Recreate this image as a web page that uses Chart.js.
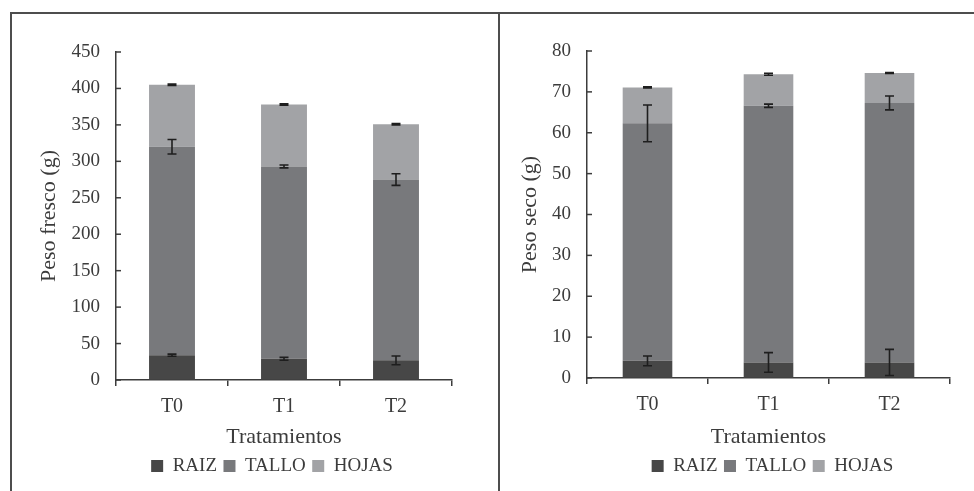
<!DOCTYPE html>
<html><head><meta charset="utf-8">
<script src="https://cdn.jsdelivr.net/npm/chart.js@4.4.0/dist/chart.umd.min.js"></script>
<style>
html,body{margin:0;padding:0;background:#fff;}
#wrap{position:relative;width:974px;height:491px;overflow:hidden;background:#fff;}
.c{position:absolute;top:0;}
.ln{position:absolute;background:#4d4d4d;}
</style></head>
<body><div id="wrap">
<div class="c" style="left:0;width:498px;height:491px"><canvas id="c1" width="498" height="491"></canvas></div>
<div class="c" style="left:498px;width:476px;height:491px"><canvas id="c2" width="476" height="491"></canvas></div>
<div class="ln" style="left:10px;top:12px;width:964px;height:2px"></div>
<div class="ln" style="left:10px;top:12px;width:2px;height:479px"></div>
<div class="ln" style="left:498px;top:12px;width:2px;height:479px"></div>
</div>
<script>
const categories = ['T0', 'T1', 'T2'];
const seriesNames = ['RAIZ', 'TALLO', 'HOJAS'];

const frescoRaiz  = [34, 29, 27];
const frescoTallo = [286, 264, 248];
const frescoHojas = [85, 85, 76];
const frescoRaizErr  = [1.5, 2, 6];
const frescoTalloErr = [10, 2, 8];
const frescoHojasErr = [1, 1, 1];

const secoRaiz  = [4.2, 3.8, 3.8];
const secoTallo = [58.1, 62.8, 63.5];
const secoHojas = [8.8, 7.7, 7.3];
const secoRaizErr  = [1.2, 2.4, 3.2];
const secoTalloErr = [4.5, 0.4, 1.7];
const secoHojasErr = [0.15, 0.25, 0.1];

const frescoTicks = {min: 0, max: 450, step: 50};
const secoTicks = {min: 0, max: 80, step: 10};

const colors = ['#474747', '#78797c', '#a2a3a6'];
const ink = '#3c3c3c';

Chart.defaults.font.family = '"Liberation Serif", "Times New Roman", serif';
Chart.defaults.font.size = 19;
Chart.defaults.color = ink;

const errorBars = {
  id: 'errorBars',
  afterDatasetsDraw(chart) {
    const ctx = chart.ctx, y = chart.scales.y;
    ctx.save();
    ctx.strokeStyle = '#1e1e1e';
    ctx.lineWidth = 1.6;
    chart.data.datasets.forEach((ds, i) => {
      const meta = chart.getDatasetMeta(i);
      meta.data.forEach((bar, j) => {
        let cum = 0;
        for (let k = 0; k <= i; k++) cum += chart.data.datasets[k].data[j];
        const e = ds.errors[j];
        const yt = y.getPixelForValue(cum + e), yb = y.getPixelForValue(cum - e);
        const x = bar.x, hw = 4.5;
        ctx.beginPath();
        ctx.moveTo(x, yt); ctx.lineTo(x, yb);
        ctx.moveTo(x - hw, yt); ctx.lineTo(x + hw, yt);
        ctx.moveTo(x - hw, yb); ctx.lineTo(x + hw, yb);
        ctx.stroke();
      });
    });
    ctx.restore();
  }
};

const innerTicks = {
  id: 'innerTicks',
  afterDraw(chart) {
    const ctx = chart.ctx, y = chart.scales.y, left = chart.chartArea.left;
    ctx.save();
    ctx.strokeStyle = ink;
    ctx.lineWidth = 1.5;
    y.ticks.forEach(t => {
      const py = y.getPixelForValue(t.value);
      ctx.beginPath();
      ctx.moveTo(left, py); ctx.lineTo(left + 5, py);
      ctx.stroke();
    });
    ctx.restore();
  }
};

const legendShift = {
  id: 'legendShift',
  afterLayout(chart, args, opts) {
    const lg = chart.legend;
    if (lg && opts && opts.dx) { lg.left += opts.dx; lg.right += opts.dx; }
  }
};

function makeChart(id, raiz, tallo, hojas, errs, tk, yTitle, lay) {
  return new Chart(document.getElementById(id), {
    type: 'bar',
    data: {
      labels: categories,
      datasets: [
        {label: seriesNames[0], data: raiz, errors: errs[0], backgroundColor: colors[0], borderWidth: 0},
        {label: seriesNames[1], data: tallo, errors: errs[1], backgroundColor: colors[1], borderWidth: 0},
        {label: seriesNames[2], data: hojas, errors: errs[2], backgroundColor: colors[2], borderWidth: 0}
      ]
    },
    options: {
      responsive: false,
      animation: false,
      layout: {padding: {left: 0, right: lay.padR, top: lay.padT, bottom: lay.padB}},
      datasets: {bar: {categoryPercentage: 1, barPercentage: 0.41}},
      plugins: {
        legend: {
          position: 'bottom', fullSize: false,
          labels: {boxWidth: 12, boxHeight: 12, padding: 6.5, color: ink, font: {size: 19}}
        },
        legendShift: {dx: lay.legendDx},
        tooltip: {enabled: false}
      },
      scales: {
        x: {
          stacked: true,
          grid: {drawOnChartArea: false, drawTicks: true, tickLength: 6, color: ink, lineWidth: 1.5},
          border: {color: ink, width: 1.5},
          ticks: {padding: 9, color: ink, font: {size: 20}},
          title: {display: true, text: 'Tratamientos', color: ink, font: {size: 22}, padding: {top: 0, bottom: 0}},
          afterFit(s) { s.height = lay.xH; }
        },
        y: {
          stacked: true, min: tk.min, max: tk.max,
          ticks: {stepSize: tk.step, padding: 16, color: ink, font: {size: 19}},
          grid: {drawOnChartArea: false, drawTicks: false},
          border: {color: ink, width: 1.5},
          title: {display: true, text: yTitle, color: ink, font: {size: 22}, padding: {top: lay.yTitlePad, bottom: 0}},
          afterFit(s) { s.width = lay.yW; }
        }
      }
    },
    plugins: [errorBars, innerTicks, legendShift]
  });
}

makeChart('c1', frescoRaiz, frescoTallo, frescoHojas,
  [frescoRaizErr, frescoTalloErr, frescoHojasErr], frescoTicks, 'Peso fresco (g)',
  {padR: 46, padT: 52, padB: 5.5, xH: 70, yW: 116, yTitlePad: 36, legendDx: -12});

makeChart('c2', secoRaiz, secoTallo, secoHojas,
  [secoRaizErr, secoTalloErr, secoHojasErr], secoTicks, 'Peso seco (g)',
  {padR: 24, padT: 51, padB: 5.5, xH: 72, yW: 89, yTitlePad: 19.5, legendDx: 4});
</script>
</body></html>
